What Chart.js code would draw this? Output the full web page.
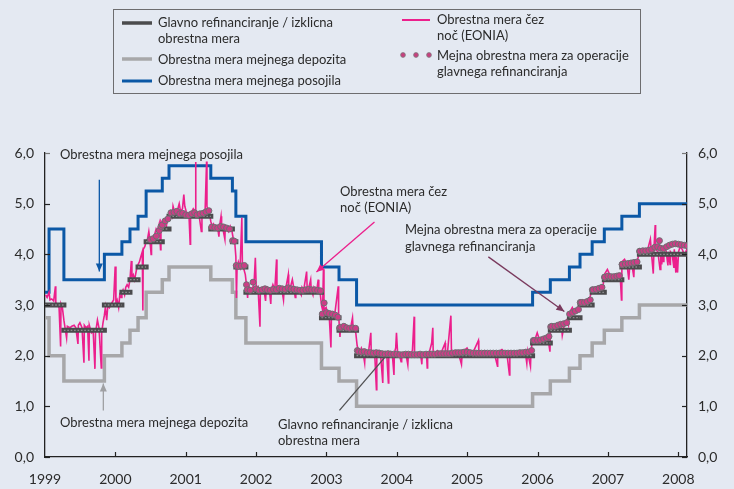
<!DOCTYPE html>
<html>
<head>
<meta charset="utf-8">
<script src="https://cdn.jsdelivr.net/npm/chart.js@4.4.1/dist/chart.umd.min.js"></script>
<style>
  html, body { margin: 0; padding: 0; background: #e4e9f2; }
  #wrap { width: 734px; height: 489px; position: relative; }
  canvas { display: block; }
</style>
</head>
<body>
<div id="wrap"><canvas id="c" width="734" height="489"></canvas></div>
<script>
// ---------------- DATA ----------------
const X_MIN = 1999.0;
const X_MAX = 2008.123;
const yearTicks = [1999, 2000, 2001, 2002, 2003, 2004, 2005, 2006, 2007, 2008];
const rateTicks = [0, 1, 2, 3, 4, 5, 6];

// Policy rate change dates
const changeDates = ["1999-01-01","1999-01-22","1999-04-09","1999-11-05","2000-02-04","2000-03-17","2000-04-28","2000-06-09","2000-09-01","2000-10-06","2001-05-11","2001-08-31","2001-09-18","2001-11-09","2002-12-06","2003-03-07","2003-06-06","2005-12-06","2006-03-08","2006-06-15","2006-08-09","2006-10-11","2006-12-13","2007-03-14","2007-06-13"];
// Main refinancing / minimum bid rate
const refiRates    = [3.00,3.00,2.50,3.00,3.25,3.50,3.75,4.25,4.50,4.75,4.50,4.25,3.75,3.25,2.75,2.50,2.00,2.25,2.50,2.75,3.00,3.25,3.50,3.75,4.00];
// Deposit facility
const depositRates = [2.75,2.00,1.50,2.00,2.25,2.50,2.75,3.25,3.50,3.75,3.50,3.25,2.75,2.25,1.75,1.50,1.00,1.25,1.50,1.75,2.00,2.25,2.50,2.75,3.00];
// Marginal lending facility
const lendingRates = [3.25,4.50,3.50,4.00,4.25,4.50,4.75,5.25,5.50,5.75,5.50,5.25,4.75,4.25,3.75,3.50,3.00,3.25,3.50,3.75,4.00,4.25,4.50,4.75,5.00];

// EONIA (overnight rate)
const eonia = [
["1999-01-04",3.20],["1999-01-12",3.15],["1999-01-22",3.25],["1999-01-27",3.10],["1999-02-05",3.12],["1999-02-15",3.08],["1999-02-24",3.37],["1999-02-26",3.05],
["1999-03-05",3.00],["1999-03-15",2.95],["1999-03-23",2.18],["1999-03-25",3.02],["1999-04-01",2.95],["1999-04-09",2.70],["1999-04-15",2.55],["1999-04-23",2.35],["1999-04-27",2.58],
["1999-05-10",2.55],["1999-05-20",2.58],["1999-06-01",2.60],["1999-06-10",2.55],["1999-06-21",2.23],["1999-06-23",2.60],["1999-07-01",2.65],["1999-07-12",2.55],["1999-07-22",1.86],["1999-07-24",2.60],
["1999-08-02",2.55],["1999-08-10",2.58],["1999-08-17",1.90],["1999-08-19",2.60],["1999-08-30",2.45],["1999-09-08",2.48],["1999-09-17",1.74],["1999-09-20",2.45],["1999-09-30",2.70],
["1999-10-08",2.55],["1999-10-20",1.76],["1999-10-22",2.45],["1999-10-29",2.65],["1999-11-05",2.80],["1999-11-10",2.95],["1999-11-17",2.70],["1999-11-23",3.00],["1999-12-01",2.95],["1999-12-15",3.05],["1999-12-23",3.10],["1999-12-31",3.76],
["2000-01-04",3.05],["2000-01-10",3.10],["2000-01-18",2.95],["2000-01-24",3.20],["2000-01-31",3.15],["2000-02-04",3.25],["2000-02-10",3.30],["2000-02-18",3.20],["2000-02-24",3.35],
["2000-03-02",3.40],["2000-03-10",3.35],["2000-03-17",3.50],["2000-03-24",3.87],["2000-03-27",3.55],["2000-04-03",3.60],["2000-04-10",3.50],["2000-04-20",3.70],["2000-04-28",3.80],
["2000-05-05",3.85],["2000-05-12",3.95],["2000-05-20",4.05],["2000-05-23",2.89],["2000-05-25",4.10],["2000-06-02",4.15],["2000-06-09",4.25],["2000-06-16",4.30],["2000-06-23",4.45],["2000-06-28",4.30],
["2000-07-05",4.00],["2000-07-07",4.30],["2000-07-14",4.35],["2000-07-24",4.40],["2000-07-31",4.50],["2000-08-07",4.45],["2000-08-16",4.60],["2000-08-23",4.09],["2000-08-25",4.65],
["2000-09-01",4.60],["2000-09-08",4.65],["2000-09-15",4.70],["2000-09-22",4.55],["2000-09-29",4.75],["2000-10-06",4.80],["2000-10-13",4.85],["2000-10-23",4.75],["2000-10-27",4.95],
["2000-11-03",4.85],["2000-11-10",4.80],["2000-11-21",4.90],["2000-11-28",5.00],["2000-12-05",4.85],["2000-12-15",4.90],["2000-12-22",5.18],["2000-12-27",4.95],
["2001-01-03",4.85],["2001-01-10",4.80],["2001-01-18",4.75],["2001-01-24",4.20],["2001-01-26",4.80],["2001-02-02",4.85],["2001-02-09",4.90],["2001-02-19",4.85],["2001-02-21",5.82],["2001-02-23",4.85],
["2001-03-02",4.80],["2001-03-12",4.75],["2001-03-23",4.45],["2001-03-26",4.80],["2001-04-04",4.85],["2001-04-11",4.80],["2001-04-19",5.83],["2001-04-21",4.95],["2001-04-27",4.85],
["2001-05-04",4.80],["2001-05-11",4.65],["2001-05-18",4.55],["2001-05-25",4.60],["2001-06-01",4.55],["2001-06-08",4.50],["2001-06-15",4.55],["2001-06-22",4.35],["2001-06-25",4.55],
["2001-07-03",4.75],["2001-07-06",4.55],["2001-07-13",4.50],["2001-07-23",4.30],["2001-07-25",4.55],["2001-08-03",4.50],["2001-08-10",4.45],["2001-08-20",4.55],["2001-08-29",4.45],
["2001-09-05",4.30],["2001-09-12",4.25],["2001-09-18",3.95],["2001-09-21",3.14],["2001-09-24",3.70],["2001-10-01",3.85],["2001-10-10",3.75],["2001-10-19",4.72],["2001-10-22",3.75],["2001-10-30",3.70],
["2001-11-06",3.60],["2001-11-12",3.40],["2001-11-18",3.14],["2001-11-20",3.40],["2001-11-28",3.35],["2001-12-07",3.30],["2001-12-14",3.35],["2001-12-21",3.40],["2001-12-28",3.93],
["2002-01-02",3.30],["2002-01-11",3.35],["2002-01-21",2.57],["2002-01-23",3.30],["2002-02-01",3.35],["2002-02-11",3.30],["2002-02-19",3.08],["2002-02-22",3.30],
["2002-03-01",3.35],["2002-03-11",3.30],["2002-03-18",3.02],["2002-03-21",3.30],["2002-03-29",3.40],["2002-04-08",3.30],["2002-04-17",3.90],["2002-04-19",3.30],["2002-04-26",3.35],
["2002-05-06",3.30],["2002-05-14",3.32],["2002-05-23",3.10],["2002-05-27",3.35],["2002-06-05",3.35],["2002-06-17",3.60],["2002-06-19",3.35],["2002-06-28",3.35],["2002-07-08",3.50],["2002-07-15",3.35],["2002-07-23",3.15],["2002-07-26",3.30],
["2002-08-05",3.30],["2002-08-14",3.28],["2002-08-23",3.20],["2002-08-27",3.35],["2002-09-05",3.30],["2002-09-20",3.66],["2002-09-23",3.30],["2002-10-02",3.35],["2002-10-11",3.50],["2002-10-14",3.30],["2002-10-23",3.20],["2002-10-28",3.35],
["2002-11-05",3.30],["2002-11-12",3.30],["2002-11-19",3.50],["2002-11-22",3.30],["2002-11-29",3.25],["2002-12-06",3.00],["2002-12-12",2.90],["2002-12-16",3.70],["2002-12-19",2.90],["2002-12-30",2.95],
["2003-01-06",2.85],["2003-01-15",2.80],["2003-01-24",2.16],["2003-01-27",2.85],["2003-02-05",2.80],["2003-02-14",2.85],["2003-03-03",3.37],["2003-03-05",2.80],["2003-03-12",2.37],["2003-03-14",2.55],
["2003-03-24",2.55],["2003-04-02",2.60],["2003-04-10",2.55],["2003-04-22",2.50],["2003-04-25",2.58],["2003-05-06",2.55],["2003-05-16",2.75],["2003-05-19",2.55],["2003-05-27",2.50],["2003-06-02",2.45],
["2003-06-09",2.20],["2003-06-16",2.10],["2003-06-23",2.05],["2003-07-01",2.15],["2003-07-09",2.08],["2003-07-18",1.86],["2003-07-21",2.10],["2003-07-30",2.08],["2003-08-08",2.10],["2003-08-19",2.45],["2003-08-21",2.08],["2003-08-29",2.10],
["2003-09-08",2.05],["2003-09-17",1.33],["2003-09-19",2.05],["2003-09-30",2.10],["2003-10-08",2.05],["2003-10-20",1.46],["2003-10-22",2.05],["2003-10-31",2.08],["2003-11-10",2.00],["2003-11-18",1.46],["2003-11-20",2.05],["2003-11-28",2.08],
["2003-12-08",2.05],["2003-12-17",1.62],["2003-12-19",2.05],["2003-12-26",2.15],["2003-12-30",2.45],
["2004-01-05",2.05],["2004-01-14",2.02],["2004-01-23",1.88],["2004-01-26",2.05],["2004-02-05",2.05],["2004-02-16",2.06],["2004-02-27",1.82],["2004-03-01",2.05],["2004-03-10",2.03],["2004-03-22",2.10],["2004-03-31",2.77],["2004-04-02",2.05],
["2004-04-13",2.05],["2004-04-22",2.02],["2004-05-03",2.05],["2004-05-10",1.83],["2004-05-12",2.05],["2004-05-24",2.06],["2004-06-03",2.05],["2004-06-07",1.76],["2004-06-09",2.05],["2004-06-18",2.07],["2004-06-30",2.25],
["2004-07-06",2.55],["2004-07-08",2.06],["2004-07-19",2.06],["2004-07-30",2.10],["2004-08-09",2.05],["2004-08-20",2.07],["2004-09-08",2.25],["2004-09-10",2.06],["2004-09-20",2.05],["2004-10-08",2.79],["2004-10-11",2.07],["2004-10-22",2.08],
["2004-11-03",2.08],["2004-11-15",2.07],["2004-12-02",1.83],["2004-12-06",2.07],["2004-12-15",2.10],["2004-12-31",2.15],
["2005-01-10",2.08],["2005-01-20",2.07],["2005-02-01",2.07],["2005-02-28",2.30],["2005-03-02",2.07],["2005-03-15",2.05],["2005-03-31",2.10],["2005-04-11",2.08],["2005-04-22",2.07],["2005-05-05",2.08],["2005-05-20",2.07],
["2005-06-07",1.79],["2005-06-08",2.07],["2005-06-20",2.10],["2005-06-30",2.12],["2005-07-11",2.08],["2005-07-25",2.07],["2005-08-08",1.62],["2005-08-10",2.07],["2005-08-25",2.08],["2005-09-06",2.09],["2005-09-20",2.08],
["2005-10-10",2.08],["2005-10-28",2.10],["2005-11-06",1.85],["2005-11-10",2.08],["2005-11-25",1.79],["2005-11-28",2.10],["2005-12-06",2.30],["2005-12-15",2.28],["2005-12-30",2.45],
["2006-01-10",2.32],["2006-01-25",2.33],["2006-02-08",2.30],["2006-02-22",2.40],["2006-03-06",2.08],["2006-03-09",2.55],["2006-03-20",2.58],["2006-04-05",2.60],["2006-04-20",2.65],["2006-05-05",2.58],["2006-05-09",2.40],["2006-05-20",2.62],["2006-05-31",2.70],
["2006-06-10",2.60],["2006-06-16",2.85],["2006-06-30",2.95],["2006-07-12",2.85],["2006-07-25",2.88],["2006-08-09",3.05],["2006-08-22",3.10],["2006-09-06",3.05],["2006-09-20",3.10],["2006-09-29",3.15],
["2006-10-11",3.30],["2006-10-25",3.35],["2006-11-08",3.30],["2006-11-22",3.35],["2006-12-06",3.35],["2006-12-13",3.60],["2006-12-29",3.70],
["2007-01-10",3.60],["2007-01-25",3.58],["2007-02-08",3.55],["2007-02-20",3.60],["2007-03-06",3.55],["2007-03-12",3.10],["2007-03-14",3.85],["2007-03-28",3.90],["2007-04-10",3.80],["2007-04-19",3.50],["2007-04-25",3.82],
["2007-05-03",3.85],["2007-05-15",3.55],["2007-05-18",3.85],["2007-06-01",3.85],["2007-06-13",4.05],["2007-06-25",4.10],["2007-07-10",4.07],["2007-07-25",4.08],["2007-08-09",4.30],["2007-08-14",4.05],["2007-08-24",3.62],["2007-08-28",4.15],
["2007-09-03",4.58],["2007-09-05",4.10],["2007-09-17",4.05],["2007-09-28",3.70],["2007-10-02",4.05],["2007-10-07",3.80],["2007-10-10",4.00],["2007-10-15",3.86],["2007-10-18",4.00],["2007-10-30",4.05],
["2007-11-08",3.78],["2007-11-10",4.05],["2007-11-19",3.80],["2007-11-21",4.05],["2007-11-30",4.00],["2007-12-09",3.73],["2007-12-11",4.10],["2007-12-19",3.64],["2007-12-21",3.95],["2007-12-28",3.64],
["2008-01-02",4.05],["2008-01-10",4.15],["2008-01-21",4.10],["2008-01-31",4.00],["2008-02-08",4.05],["2008-02-15",4.10]
];

// Marginal rate of main refinancing operations (variable rate tenders)
const marginal = [
["2000-07-01",4.29],["2000-07-16",4.31],["2000-08-01",4.36],["2000-08-16",4.47],["2000-08-25",4.55],["2000-09-01",4.58],["2000-09-16",4.66],["2000-10-01",4.70],["2000-10-16",4.82],["2000-11-01",4.83],["2000-11-16",4.85],["2000-12-01",4.80],["2000-12-16",4.81],
["2001-01-01",4.78],["2001-01-16",4.77],["2001-02-01",4.80],["2001-02-16",4.82],["2001-03-01",4.78],["2001-03-16",4.80],["2001-04-01",4.81],["2001-04-16",4.84],["2001-05-01",4.86],["2001-05-16",4.54],["2001-06-01",4.53],["2001-06-16",4.52],
["2001-07-01",4.55],["2001-07-16",4.54],["2001-08-01",4.52],["2001-08-16",4.50],["2001-09-01",4.27],["2001-09-10",4.26],["2001-09-20",3.78],["2001-10-01",3.76],["2001-10-16",3.77],["2001-11-01",3.78],["2001-11-12",3.40],["2001-11-16",3.30],["2001-12-01",3.29],["2001-12-16",3.45],
["2002-01-01",3.32],["2002-01-16",3.29],["2002-02-01",3.30],["2002-02-16",3.32],["2002-03-01",3.30],["2002-03-16",3.29],["2002-04-01",3.31],["2002-04-16",3.30],["2002-05-01",3.33],["2002-05-16",3.32],["2002-06-01",3.31],["2002-06-16",3.34],
["2002-07-01",3.32],["2002-07-16",3.31],["2002-08-01",3.30],["2002-08-16",3.29],["2002-09-01",3.29],["2002-09-16",3.30],["2002-10-01",3.31],["2002-10-16",3.30],["2002-11-01",3.30],["2002-11-16",3.29],["2002-12-01",3.28],["2002-12-10",2.82],["2002-12-20",3.04],
["2003-01-01",2.85],["2003-01-16",2.83],["2003-02-01",2.82],["2003-02-16",2.80],["2003-03-01",2.76],["2003-03-10",2.55],["2003-03-16",2.56],["2003-04-01",2.58],["2003-04-16",2.55],["2003-05-01",2.54],["2003-05-16",2.55],["2003-06-01",2.54],
["2003-06-10",2.10],["2003-06-16",2.08],["2003-07-01",2.07],["2003-07-16",2.08],["2003-08-01",2.06],["2003-08-16",2.06],["2003-09-01",2.05],["2003-09-16",2.06],["2003-10-01",2.05],["2003-10-16",2.04],["2003-11-01",2.03],["2003-11-16",2.04],["2003-12-01",2.03],["2003-12-16",2.03],
["2004-01-01",2.03],["2004-01-16",2.02],["2004-02-01",2.02],["2004-02-16",2.03],["2004-03-01",2.03],["2004-03-16",2.02],["2004-04-01",2.02],["2004-04-16",2.02],["2004-05-01",2.03],["2004-05-16",2.02],["2004-06-01",2.03],["2004-06-16",2.03],
["2004-07-01",2.03],["2004-07-16",2.03],["2004-08-01",2.04],["2004-08-16",2.04],["2004-09-01",2.04],["2004-09-16",2.04],["2004-10-01",2.04],["2004-10-16",2.05],["2004-11-01",2.06],["2004-11-16",2.06],["2004-12-01",2.06],["2004-12-16",2.07],
["2005-01-01",2.07],["2005-01-16",2.06],["2005-02-01",2.05],["2005-02-16",2.05],["2005-03-01",2.05],["2005-03-16",2.05],["2005-04-01",2.05],["2005-04-16",2.05],["2005-05-01",2.05],["2005-05-16",2.05],["2005-06-01",2.05],["2005-06-16",2.05],
["2005-07-01",2.05],["2005-07-16",2.05],["2005-08-01",2.05],["2005-08-16",2.05],["2005-09-01",2.05],["2005-09-16",2.05],["2005-10-01",2.06],["2005-10-16",2.06],["2005-11-01",2.07],["2005-11-16",2.07],["2005-12-01",2.10],["2005-12-10",2.30],["2005-12-16",2.30],
["2006-01-01",2.30],["2006-01-16",2.31],["2006-02-01",2.33],["2006-02-16",2.35],["2006-03-01",2.38],["2006-03-10",2.57],["2006-03-16",2.58],["2006-04-01",2.58],["2006-04-16",2.60],["2006-05-01",2.62],["2006-05-16",2.63],["2006-06-01",2.65],
["2006-06-16",2.82],["2006-07-01",2.85],["2006-07-16",2.88],["2006-08-01",2.91],["2006-08-10",3.05],["2006-08-16",3.05],["2006-09-01",3.05],["2006-09-16",3.07],["2006-10-01",3.10],["2006-10-12",3.30],["2006-10-16",3.30],["2006-11-01",3.31],["2006-11-16",3.33],["2006-12-01",3.35],["2006-12-14",3.55],["2006-12-16",3.55],
["2007-01-01",3.57],["2007-01-16",3.56],["2007-02-01",3.56],["2007-02-16",3.57],["2007-03-01",3.58],["2007-03-15",3.80],["2007-03-16",3.80],["2007-04-01",3.81],["2007-04-16",3.82],["2007-05-01",3.83],["2007-05-16",3.84],["2007-06-01",3.85],
["2007-06-14",4.06],["2007-06-16",4.06],["2007-07-01",4.07],["2007-07-16",4.07],["2007-08-01",4.08],["2007-08-16",4.10],["2007-09-01",4.14],["2007-09-25",4.27],["2007-09-16",4.15],["2007-10-01",4.12],["2007-10-16",4.11],["2007-11-01",4.15],["2007-11-16",4.18],["2007-12-01",4.20],["2007-12-16",4.21],
["2008-01-01",4.20],["2008-01-16",4.19],["2008-02-01",4.18],["2008-02-16",4.17]
];

// ---------------- HELPERS ----------------
function dy(s) {
  const p = s.split('-').map(Number);
  const t = Date.UTC(p[0], p[1] - 1, p[2]);
  const t0 = Date.UTC(p[0], 0, 1), t1 = Date.UTC(p[0] + 1, 0, 1);
  return p[0] + (t - t0) / (t1 - t0);
}
const FONT = "Lato, 'Open Sans', 'DejaVu Sans', sans-serif";
const TEXT = '#2b2b2b';
const C_BLUE = '#0b58a6', C_GREY = '#a7a7a9', C_REFI = '#4b4b4d', C_PINK = '#ec1f8c';

function stepData(values) {
  const pts = changeDates.map((d, i) => ({ x: dy(d), y: values[i] }));
  pts.push({ x: X_MAX, y: values[values.length - 1] });
  return pts;
}
function refiSegments() {
  const pts = [];
  let i = 0;
  while (i < changeDates.length) {
    let j = i + 1;
    while (j < changeDates.length && refiRates[j] === refiRates[i]) j++;
    const x0 = dy(changeDates[i]);
    const x1 = j < changeDates.length ? dy(changeDates[j]) : X_MAX;
    pts.push({ x: x0, y: refiRates[i] }, { x: x1, y: refiRates[i] }, { x: x1, y: null });
    i = j;
  }
  return pts;
}
const fmt = v => Number(v).toFixed(1).replace('.', ',');

// ---------------- PLUGINS ----------------
const bgPlugin = {
  id: 'bg',
  beforeDraw(chart) {
    const c = chart.ctx;
    c.save();
    c.fillStyle = '#e4e9f2';
    c.fillRect(0, 0, chart.width, chart.height);
    c.restore();
  }
};

function arrowHead(c, x0, y0, x1, y1, len, half, color) {
  const a = Math.atan2(y1 - y0, x1 - x0);
  c.fillStyle = color;
  c.beginPath();
  c.moveTo(x1, y1);
  c.lineTo(x1 - len * Math.cos(a) + half * Math.sin(a), y1 - len * Math.sin(a) - half * Math.cos(a));
  c.lineTo(x1 - len * Math.cos(a) - half * Math.sin(a), y1 - len * Math.sin(a) + half * Math.cos(a));
  c.closePath();
  c.fill();
}

const decoPlugin = {
  id: 'deco',
  afterDraw(chart) {
    const c = chart.ctx;
    const xs = chart.scales.x, ys = chart.scales.y;
    const a = chart.chartArea;
    c.save();
    // inward tick marks
    c.strokeStyle = '#222';
    c.lineWidth = 1.2;
    yearTicks.forEach(v => {
      if (v === X_MIN) return;
      const px = Math.round(xs.getPixelForValue(v)) + 0.5;
      c.beginPath(); c.moveTo(px, a.bottom); c.lineTo(px, a.bottom - 5); c.stroke();
    });
    rateTicks.forEach(v => {
      const py = Math.round(ys.getPixelForValue(v)) + 0.5;
      c.strokeStyle = v === 6 ? '#777' : '#222';
      c.beginPath(); c.moveTo(a.left, py); c.lineTo(a.left + 5, py); c.stroke();
      c.beginPath(); c.moveTo(a.right, py); c.lineTo(a.right - 5, py); c.stroke();
    });

    // annotations (anchored in data coordinates)
    const P = (x, y) => [xs.getPixelForValue(x), ys.getPixelForValue(y)];
    c.lineWidth = 1.3;
    const arrows = [
      { from: [1999.772, 5.47], to: [1999.772, 3.66], color: C_BLUE, head: true },
      { from: [1999.829, 0.92], to: [1999.829, 1.45], color: '#9fa0a3', head: true },
      { from: [2003.682, 4.64], to: [2002.857, 3.65], color: C_PINK, head: true },
      { from: [2005.300, 3.95], to: [2006.380, 2.87], color: '#7a3a5e', head: true },
      { from: [2003.184, 0.92], to: [2003.838, 1.98], color: '#505052', head: false }
    ];
    arrows.forEach(ar => {
      const [x0, y0] = P(ar.from[0], ar.from[1]);
      const [x1, y1] = P(ar.to[0], ar.to[1]);
      c.strokeStyle = ar.color;
      c.beginPath(); c.moveTo(x0, y0); c.lineTo(x1, y1); c.stroke();
      if (ar.head) arrowHead(c, x0, y0, x1, y1, 8, 3.5, ar.color);
    });

    c.fillStyle = TEXT;
    c.font = '13px ' + FONT;
    c.textBaseline = 'middle';
    c.textAlign = 'left';
    const notes = [
      ['Obrestna mera mejnega posojila', 60, 155],
      ['Obrestna mera mejnega depozita', 60, 423],
      ['Obrestna mera čez', 340, 192],
      ['noč (EONIA)', 340, 208],
      ['Mejna obrestna mera za operacije', 405, 230],
      ['glavnega refinanciranja', 405, 247],
      ['Glavno refinanciranje / izklicna', 278, 425],
      ['obrestna mera', 278, 441]
    ];
    notes.forEach(n => c.fillText(n[0], n[1], n[2]));

    // legend box
    c.strokeStyle = '#6d6d6f';
    c.lineWidth = 1;
    c.strokeRect(113.5, 9.5, 527, 84);
    c.lineWidth = 3.5;
    c.lineCap = 'butt';
    c.strokeStyle = C_REFI; c.beginPath(); c.moveTo(122, 23); c.lineTo(152, 23); c.stroke();
    c.strokeStyle = C_GREY; c.beginPath(); c.moveTo(122, 59); c.lineTo(152, 59); c.stroke();
    c.lineWidth = 3;
    c.strokeStyle = C_BLUE; c.beginPath(); c.moveTo(122, 81); c.lineTo(152, 81); c.stroke();
    c.lineWidth = 2;
    c.strokeStyle = C_PINK; c.beginPath(); c.moveTo(402, 20); c.lineTo(430, 20); c.stroke();
    [403, 416, 429].forEach(x => {
      c.fillStyle = '#c8407f';
      c.strokeStyle = '#7d7d80';
      c.lineWidth = 0.8;
      c.beginPath(); c.arc(x, 55, 2.4, 0, Math.PI * 2); c.fill(); c.stroke();
    });
    c.fillStyle = TEXT;
    c.font = '13px ' + FONT;
    const leg = [
      ['Glavno refinanciranje / izklicna', 158, 23],
      ['obrestna mera', 158, 39],
      ['Obrestna mera mejnega depozita', 158, 60],
      ['Obrestna mera mejnega posojila', 158, 81],
      ['Obrestna mera čez', 437, 20],
      ['noč (EONIA)', 437, 36],
      ['Mejna obrestna mera za operacije', 437, 56],
      ['glavnega refinanciranja', 437, 72]
    ];
    leg.forEach(n => c.fillText(n[0], n[1], n[2]));
    c.restore();
  }
};

// ---------------- CHART ----------------
const yAxisCommon = {
  type: 'linear', min: 0, max: 6,
  afterBuildTicks: s => { s.ticks = rateTicks.map(v => ({ value: v })); },
  ticks: { callback: v => fmt(v), font: { size: 14, family: FONT }, color: TEXT, padding: 11 },
  grid: { display: false, drawTicks: false },
  border: { display: true, color: '#222', width: 1.3 }
};

new Chart(document.getElementById('c'), {
  type: 'line',
  data: {
    datasets: [
      { label: 'Mejna obrestna mera za operacije glavnega refinanciranja',
        data: marginal.map(p => ({ x: dy(p[0]), y: p[1] })),
        showLine: false, pointRadius: 3, pointBackgroundColor: '#cc3d86', pointBorderColor: '#6f6f72', pointBorderWidth: 1, order: 0 },
      { label: 'refi-dots', data: refiSegments(), borderColor: '#8d8d90', borderWidth: 1.4, borderDash: [1.6, 1.8],
        pointRadius: 0, spanGaps: false, order: 1 },
      { label: 'Glavno refinanciranje / izklicna obrestna mera', data: refiSegments(), borderColor: C_REFI, borderWidth: 5,
        borderCapStyle: 'square', pointRadius: 0, spanGaps: false, order: 2 },
      { label: 'Obrestna mera čez noč (EONIA)', data: eonia.map(p => ({ x: dy(p[0]), y: p[1] })),
        borderColor: C_PINK, borderWidth: 1.6, pointRadius: 0, order: 3 },
      { label: 'Obrestna mera mejnega posojila', data: stepData(lendingRates), stepped: true,
        borderColor: C_BLUE, borderWidth: 3, pointRadius: 0, order: 4 },
      { label: 'Obrestna mera mejnega depozita', data: stepData(depositRates), stepped: true,
        borderColor: C_GREY, borderWidth: 3.5, pointRadius: 0, order: 5 }
    ]
  },
  options: {
    responsive: false,
    animation: false,
    layout: { padding: { top: 153, left: 0, right: 0, bottom: 0 } },
    plugins: { legend: { display: false }, tooltip: { enabled: false } },
    scales: {
      x: {
        type: 'linear', min: X_MIN, max: X_MAX,
        afterBuildTicks: s => { s.ticks = yearTicks.map(v => ({ value: v })); },
        ticks: { callback: v => String(v), font: { size: 14, family: FONT }, color: TEXT, padding: 14, maxRotation: 0, autoSkip: false },
        grid: { display: false, drawTicks: false },
        border: { display: true, color: '#222', width: 1.3 },
        afterFit: s => { s.height = 32; }
      },
      y: Object.assign({}, yAxisCommon, { position: 'left', afterFit: s => { s.width = 45; } }),
      y2: Object.assign({}, yAxisCommon, { position: 'right', afterFit: s => { s.width = 47; } })
    }
  },
  plugins: [bgPlugin, decoPlugin]
});
</script>
</body>
</html>
